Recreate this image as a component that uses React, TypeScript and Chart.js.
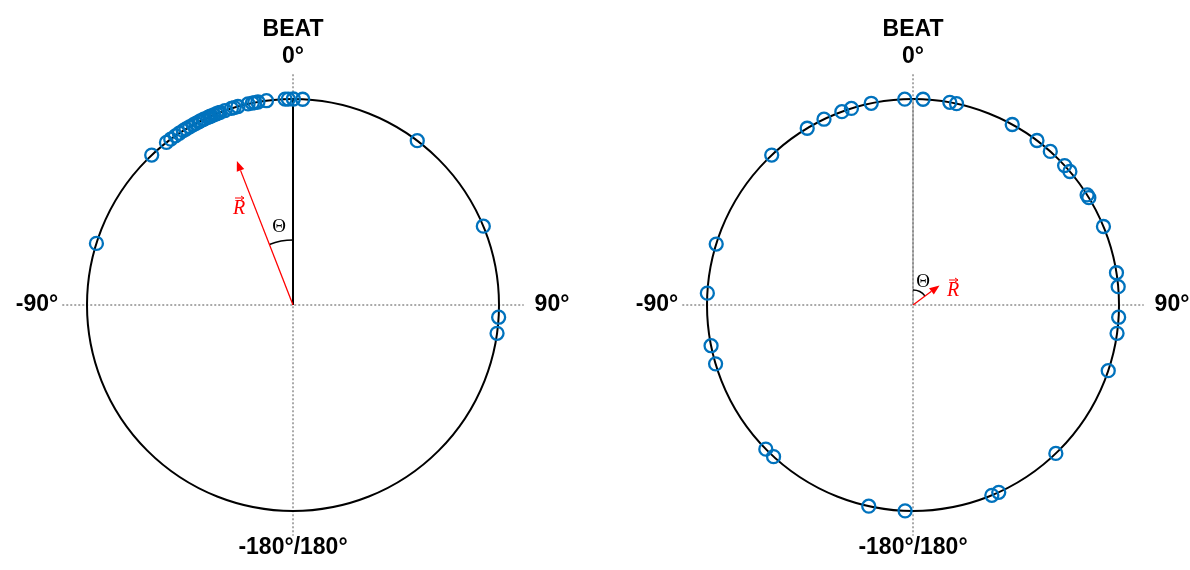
import { useEffect, useRef } from 'react';
import { Chart, registerables } from 'chart.js';

Chart.register(...registerables);

// Phase angles (degrees, clockwise from 0° at top)
const leftAngles = [
  -72.6, -43.3, -37.9, -36.4, -34.8, -33.5, -32.2, -31.3, -30.1, -29.0, -28.1,
  -27.2, -26.7, -25.9, -25.4, -24.4, -23.8, -23.3, -22.6, -21.8, -21.2, -20.7,
  -19.3, -17.4, -16.6, -15.5, -12.6, -11.4, -10.7, -9.8, -7.4, -2.2, -1.3, 0.1,
  2.7, 37.1, 67.5, 93.4, 97.9,
];
const rightAngles = [
  -43.3, -30.9, -25.6, -20.2, -17.4, -11.7, -2.3, 2.8, 10.3, 12.2, 28.8, 37.0,
  41.8, 47.4, 49.6, 57.7, 58.6, 67.6, 81.0, 84.9, 93.4, 97.9, 108.6, 136.1,
  155.4, 157.5, -177.8, -167.6, -137.4, -134.4, -106.6, -101.4, -86.7, -72.8,
];
// Mean resultant vector (angle in degrees, length relative to unit circle)
const leftResultant = [-21.3, 0.75];
const rightResultant = [53.5, 0.16];

const titleText = 'BEAT';
const topLabel = '0°';
const leftLabel = '-90°';
const rightLabel = '90°';
const bottomLabel = '-180°/180°';

const W = 595;
const H = 570;
const RADIUS_PX = 206;
const CY = 305;

type PanelCfg = {
  angles: number[];
  resultant: number[];
  cx: number;
  refColor: string;
  refWidth: number;
  arcR: number;
  thetaPos: [number, number];
  rPos: [number, number];
};

function Panel({ cfg }: { cfg: PanelCfg }) {
  const ref = useRef<HTMLCanvasElement>(null);
  useEffect(() => {
    const canvas = ref.current!;
    const toRad = (d: number) => (d * Math.PI) / 180;
    const pts = cfg.angles.map((a) => ({ x: Math.sin(toRad(a)), y: Math.cos(toRad(a)) }));

    const overlay = {
      id: 'overlay',
      beforeDatasetsDraw(chart: any) {
        const { ctx } = chart;
        const xs = chart.scales.x;
        const ys = chart.scales.y;
        const X = (v: number) => xs.getPixelForValue(v);
        const Y = (v: number) => ys.getPixelForValue(v);
        const cx = X(0);
        const cy = Y(0);
        const r = X(1) - X(0);
        ctx.save();
        // dotted axes
        ctx.setLineDash([2, 2]);
        ctx.strokeStyle = '#555';
        ctx.lineWidth = 1;
        ctx.beginPath();
        ctx.moveTo(X(-1.12), cy);
        ctx.lineTo(X(1.12), cy);
        ctx.moveTo(cx, Y(1.12));
        ctx.lineTo(cx, Y(-1.12));
        ctx.stroke();
        ctx.setLineDash([]);
        // unit circle
        ctx.strokeStyle = '#000';
        ctx.lineWidth = 2;
        ctx.beginPath();
        ctx.arc(cx, cy, r, 0, Math.PI * 2);
        ctx.stroke();
        // reference line to 0°
        ctx.strokeStyle = cfg.refColor;
        ctx.lineWidth = cfg.refWidth;
        ctx.beginPath();
        ctx.moveTo(cx, cy);
        ctx.lineTo(cx, Y(1));
        ctx.stroke();
        // theta arc
        const [ang, len] = cfg.resultant;
        const canvasAng = toRad(ang - 90);
        ctx.strokeStyle = '#000';
        ctx.lineWidth = 1.5;
        ctx.beginPath();
        ctx.arc(cx, cy, cfg.arcR, -Math.PI / 2, canvasAng, ang < 0);
        ctx.stroke();
        // resultant arrow
        const tx = X(len * Math.sin(toRad(ang)));
        const ty = Y(len * Math.cos(toRad(ang)));
        const ux = Math.cos(canvasAng);
        const uy = Math.sin(canvasAng);
        const headL = 10;
        const headW = 4;
        ctx.strokeStyle = '#ff0000';
        ctx.fillStyle = '#ff0000';
        ctx.lineWidth = 1.3;
        ctx.beginPath();
        ctx.moveTo(cx, cy);
        ctx.lineTo(tx - ux * headL, ty - uy * headL);
        ctx.stroke();
        ctx.beginPath();
        ctx.moveTo(tx, ty);
        ctx.lineTo(tx - ux * headL - uy * headW, ty - uy * headL + ux * headW);
        ctx.lineTo(tx - ux * headL + uy * headW, ty - uy * headL - ux * headW);
        ctx.closePath();
        ctx.fill();
        ctx.restore();
      },
      afterDraw(chart: any) {
        const { ctx } = chart;
        const cx = chart.scales.x.getPixelForValue(0);
        const cy = chart.scales.y.getPixelForValue(0);
        ctx.save();
        ctx.fillStyle = '#000';
        ctx.textAlign = 'center';
        ctx.textBaseline = 'middle';
        ctx.font = 'bold 23px "Liberation Sans", Arial, sans-serif';
        ctx.fillText(titleText, cx, 30);
        ctx.fillText(topLabel, cx, 57);
        ctx.fillText(bottomLabel, cx, 548);
        ctx.fillText(leftLabel, cx - 256, cy);
        ctx.fillText(rightLabel, cx + 259, cy);
        // theta label
        ctx.font = '19px "Liberation Serif", "Times New Roman", serif';
        ctx.fillText('Θ', cx + cfg.thetaPos[0], cy + cfg.thetaPos[1]);
        // R vector label
        ctx.fillStyle = '#ff0000';
        ctx.strokeStyle = '#ff0000';
        ctx.font = 'italic 20px "Liberation Serif", "Times New Roman", serif';
        const rx = cx + cfg.rPos[0];
        const ry = cy + cfg.rPos[1];
        ctx.fillText('R', rx, ry);
        ctx.lineWidth = 1;
        ctx.beginPath();
        ctx.moveTo(rx - 4, ry - 11);
        ctx.lineTo(rx + 5, ry - 11);
        ctx.moveTo(rx + 2, ry - 13);
        ctx.lineTo(rx + 5, ry - 11);
        ctx.lineTo(rx + 2, ry - 9);
        ctx.stroke();
        ctx.restore();
      },
    };

    const chart = new Chart(canvas, {
      type: 'scatter',
      data: {
        datasets: [
          {
            data: pts,
            pointRadius: 6.5,
            pointBorderWidth: 2.3,
            pointBorderColor: '#0072BD',
            pointBackgroundColor: 'rgba(0,0,0,0)',
            showLine: false,
          },
        ],
      },
      options: {
        responsive: false,
        animation: false,
        events: [],
        layout: { padding: 0, autoPadding: false },
        plugins: { legend: { display: false }, tooltip: { enabled: false } },
        scales: {
          x: {
            type: 'linear',
            display: false,
            min: -cfg.cx / RADIUS_PX,
            max: (W - cfg.cx) / RADIUS_PX,
          },
          y: {
            type: 'linear',
            display: false,
            min: -(H - CY) / RADIUS_PX,
            max: CY / RADIUS_PX,
          },
        },
      },
      plugins: [overlay],
    } as any);
    return () => chart.destroy();
  }, [cfg]);
  return <canvas ref={ref} width={W} height={H} style={{ display: 'block', width: W, height: H }} />;
}

const leftCfg: PanelCfg = {
  angles: leftAngles,
  resultant: leftResultant,
  cx: 293,
  refColor: '#000',
  refWidth: 2,
  arcR: 65,
  thetaPos: [-14, -78],
  rPos: [-54, -96],
};
const rightCfg: PanelCfg = {
  angles: rightAngles,
  resultant: rightResultant,
  cx: 318,
  refColor: '#777',
  refWidth: 1,
  arcR: 15,
  thetaPos: [10, -23],
  rPos: [40, -14],
};

export default function App() {
  return (
    <div
      style={{
        position: 'absolute',
        left: 0,
        top: 0,
        width: 1190,
        height: 570,
        display: 'flex',
        background: '#fff',
      }}
    >
      <Panel cfg={leftCfg} />
      <Panel cfg={rightCfg} />
    </div>
  );
}
